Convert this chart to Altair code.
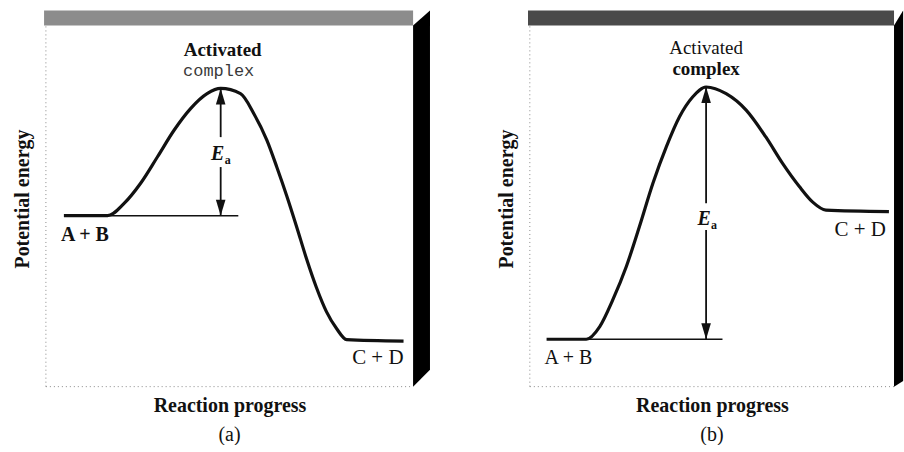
import altair as alt
import pandas as pd

# ---- data -------------------------------------------------------------
# (a) exothermic profile: reactants high, products low
a_progress = [4.9, 16.8, 21.3, 25.8, 30.4, 34.9, 39.4, 43.9, 47.6, 53.0, 56.6,
              60.2, 62.9, 65.6, 68.3, 71.0, 73.7, 76.4, 79.2, 81.9, 97.4]
a_energy = [45.8, 45.8, 49.1, 54.5, 61.6, 68.7, 74.5, 78.5, 79.9, 78.5, 73.2,
            66.0, 58.8, 51.1, 42.8, 34.2, 26.5, 20.1, 15.5, 12.6, 12.2]
a_baseline_end = 52.4

# (b) endothermic profile: reactants low, products high
b_progress = [4.6, 15.5, 19.2, 22.8, 26.5, 30.1, 33.8, 37.5, 41.1, 44.7, 48.4,
              53.9, 59.4, 64.8, 69.4, 74.0, 77.6, 81.3, 98.6]
b_energy = [12.7, 12.7, 16.1, 23.3, 32.2, 42.9, 54.5, 64.3, 72.3, 77.6, 80.3,
            78.5, 74.1, 66.9, 59.8, 53.6, 49.5, 47.3, 46.9]
b_baseline_end = 52.9

reactant_label = "A + B"
product_label = "C + D"
peak_labels = ["Activated", "complex"]
x_title = "Reaction progress"
y_title = "Potential energy"
panel_tags = ["(a)", "(b)"]

# ---- styling ----------------------------------------------------------
SERIF = "Liberation Serif"
MONO = "Liberation Mono"
INK = "#111111"
X_DOMAIN = [0, 100]
Y_DOMAIN = [0, 100.8]
HEIGHT = 377

X_AXIS = alt.Axis(title=x_title, labels=False, ticks=False, domain=False, grid=False,
                  titleFont=SERIF, titleFontSize=20, titleFontWeight="bold",
                  titleColor=INK, titlePadding=9)
Y_AXIS = alt.Axis(title=y_title, labels=False, ticks=False, domain=False, grid=False,
                  titleFont=SERIF, titleFontSize=20, titleFontWeight="bold",
                  titleColor=INK, titlePadding=13)


def X(field):
    return alt.X(f"{field}:Q", scale=alt.Scale(domain=X_DOMAIN, nice=False, zero=False), axis=X_AXIS)


def Y(field):
    return alt.Y(f"{field}:Q", scale=alt.Scale(domain=Y_DOMAIN, nice=False, zero=False), axis=Y_AXIS)


def panel(progress, energy, baseline_end, width, tag, st):
    curve = pd.DataFrame({"progress": progress, "energy": energy})
    start_x, start_e = progress[0], energy[0]
    end_x, end_e = progress[-1], energy[-1]
    i_peak = energy.index(max(energy))
    peak_x, peak_e = progress[i_peak], energy[i_peak]
    mid_e = (start_e + peak_e) / 2

    layers = []

    # box: shaded top edge, dark side edge, faint dotted left/bottom edges
    top_band = pd.DataFrame({"progress": [-0.5], "p2": [100], "energy": [96.8], "e2": [100.8]})
    layers.append(alt.Chart(top_band).mark_rect(color=st["band"]).encode(
        x=X("progress"), x2="p2", y=Y("energy"), y2="e2"))
    side = pd.DataFrame({"progress": [100, 100 + st["side_w"]],
                         "energy": [96.8, 100.8], "e2": [0, st["side_drop"]]})
    layers.append(alt.Chart(side).mark_area(color="#000000", orient="vertical").encode(
        x=X("progress"), y=Y("energy"), y2="e2"))
    edges = pd.DataFrame({"progress": [0, 0], "p2": [0, 100], "energy": [0, 0], "e2": [96.8, 0]})
    layers.append(alt.Chart(edges).mark_rule(color="#8a8a8a", strokeDash=[1, 3], strokeWidth=1).encode(
        x=X("progress"), x2="p2", y=Y("energy"), y2="e2"))

    # thin reference level under the barrier
    base = pd.DataFrame({"progress": [progress[1]], "p2": [baseline_end], "energy": [start_e]})
    layers.append(alt.Chart(base).mark_rule(color=INK, strokeWidth=1.6).encode(
        x=X("progress"), x2="p2", y=Y("energy")))

    # energy profile
    layers.append(alt.Chart(curve).mark_line(color=INK, strokeWidth=3.2, interpolate="monotone").encode(
        x=X("progress"), y=Y("energy")))

    # activation-energy arrow with a gap for its label
    upper = pd.DataFrame({"progress": [peak_x], "energy": [peak_e], "e2": [mid_e]})
    layers.append(alt.Chart(upper).mark_rule(color=INK, strokeWidth=1.8, y2Offset=st["gap_top"]).encode(
        x=X("progress"), y=Y("energy"), y2="e2"))
    lower = pd.DataFrame({"progress": [peak_x], "energy": [mid_e], "e2": [start_e]})
    layers.append(alt.Chart(lower).mark_rule(color=INK, strokeWidth=1.8, yOffset=st["gap_bottom"]).encode(
        x=X("progress"), y=Y("energy"), y2="e2"))
    tip_up = pd.DataFrame({"progress": [peak_x], "energy": [peak_e]})
    layers.append(alt.Chart(tip_up).mark_point(shape="M0,-1L0.6,1L-0.6,1Z", size=256, filled=True,
                                               opacity=1, color=INK, yOffset=8).encode(
        x=X("progress"), y=Y("energy")))
    tip_down = pd.DataFrame({"progress": [peak_x], "energy": [start_e]})
    layers.append(alt.Chart(tip_down).mark_point(shape="M0,1L0.6,-1L-0.6,-1Z", size=256, filled=True,
                                                 opacity=1, color=INK, yOffset=-8).encode(
        x=X("progress"), y=Y("energy")))

    # E_a label
    ea = pd.DataFrame({"progress": [peak_x], "energy": [mid_e], "main": ["E"], "sub": ["a"]})
    layers.append(alt.Chart(ea).mark_text(font=SERIF, fontSize=20, fontStyle="italic", fontWeight="bold",
                                          color=INK, align="center", baseline="middle",
                                          dx=st["e_dx"], dy=st["e_dy"]).encode(
        x=X("progress"), y=Y("energy"), text="main:N"))
    layers.append(alt.Chart(ea).mark_text(font=SERIF, fontSize=12, fontWeight="bold",
                                          color=INK, align="left", baseline="middle",
                                          dx=st["a_dx"], dy=st["a_dy"]).encode(
        x=X("progress"), y=Y("energy"), text="sub:N"))

    # activated complex caption (two lines sitting on their baselines)
    top = pd.DataFrame({"progress": [peak_x], "energy": [peak_e], "label": [peak_labels[0]]})
    layers.append(alt.Chart(top).mark_text(font=SERIF, fontSize=19, fontWeight=st["act_w"], color=INK,
                                           align="center", baseline="alphabetic",
                                           dx=st["act_dx"], dy=st["act_dy"]).encode(
        x=X("progress"), y=Y("energy"), text="label:N"))
    top2 = pd.DataFrame({"progress": [peak_x], "energy": [peak_e], "label": [peak_labels[1]]})
    layers.append(alt.Chart(top2).mark_text(font=st["cx_font"], fontSize=st["cx_size"],
                                            fontWeight=st["cx_w"], color=st["cx_color"],
                                            align="center", baseline="alphabetic",
                                            dx=st["cx_dx"], dy=st["cx_dy"]).encode(
        x=X("progress"), y=Y("energy"), text="label:N"))

    # reactant / product labels under their levels
    r = pd.DataFrame({"progress": [start_x], "energy": [start_e], "label": [reactant_label]})
    layers.append(alt.Chart(r).mark_text(font=SERIF, fontSize=20, fontWeight=st["lbl_w"], color=INK,
                                         align="left", baseline="middle",
                                         dx=st["r_dx"], dy=19).encode(
        x=X("progress"), y=Y("energy"), text="label:N"))
    p = pd.DataFrame({"progress": [end_x], "energy": [end_e], "label": [product_label]})
    layers.append(alt.Chart(p).mark_text(font=SERIF, fontSize=21, fontWeight="normal", color=INK,
                                         align="right", baseline="middle",
                                         dx=st["p_dx"], dy=st["p_dy"]).encode(
        x=X("progress"), y=Y("energy"), text="label:N"))

    return alt.layer(*layers).properties(
        width=width, height=HEIGHT,
        title=alt.TitleParams(tag, orient="bottom", anchor="middle", frame="group", offset=9,
                              font=SERIF, fontSize=20, fontWeight="normal", color=INK),
    )


style_a = dict(band="#8c8c8c", side_w=4.6, side_drop=4.5, gap_top=-15, gap_bottom=15,
               e_dx=-3, e_dy=2, a_dx=4, a_dy=8, act_w="bold", act_dx=2, act_dy=-33,
               cx_font=MONO, cx_size=17, cx_w="normal", cx_color="#3a3a3a", cx_dx=-2, cx_dy=-12,
               lbl_w="bold", r_dx=-3, p_dx=0, p_dy=17)
style_b = dict(band="#4a4a4a", side_w=2.5, side_drop=1.5, gap_top=-10, gap_bottom=17,
               e_dx=-2, e_dy=6, a_dx=5, a_dy=12, act_w="normal", act_dx=0, act_dy=-33,
               cx_font=SERIF, cx_size=19, cx_w="bold", cx_color=INK, cx_dx=0, cx_dy=-12,
               lbl_w="normal", r_dx=-2, p_dx=-3, p_dy=18)

panel_a = panel(a_progress, a_energy, a_baseline_end, 368, panel_tags[0], style_a)
panel_b = panel(b_progress, b_energy, b_baseline_end, 365, panel_tags[1], style_b)

chart = alt.hconcat(panel_a, panel_b, spacing=117, bounds="flush").properties(
    padding={"left": 13, "top": 10, "right": 0, "bottom": 0},
    background="white",
).configure_view(stroke=None)

chart.save("out.html", embed_options={"renderer": "svg", "actions": False})
